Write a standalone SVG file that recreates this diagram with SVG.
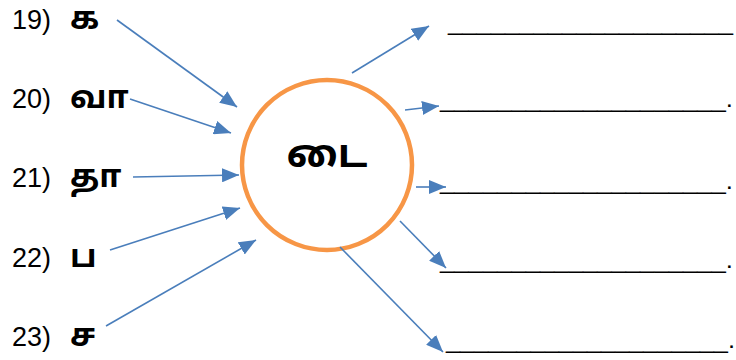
<svg xmlns="http://www.w3.org/2000/svg" width="736" height="360" viewBox="0 0 736 360">
<style>
.lbl{font-family:"Liberation Sans",Arial,"Noto Sans Tamil","Noto Sans",sans-serif;font-size:27px;fill:#000}
.ta{font-family:"Noto Sans Tamil","Latha","Noto Sans","Liberation Sans",sans-serif;font-size:32px;font-weight:bold;fill:#000}
.big{font-size:40px}
.blank{font-family:"Liberation Sans",Arial,sans-serif;font-size:24px;fill:#000}
.arr{stroke:#4A7EBB;stroke-width:1.6;fill:none;marker-end:url(#ah)}
</style>
<defs>
<marker id="ah" markerUnits="userSpaceOnUse" markerWidth="18" markerHeight="14" refX="17" refY="7" orient="auto">
<path d="M0,0 L17,7 L0,14 z" fill="#4A7EBB"/>
</marker>
</defs>
<rect width="736" height="360" fill="#fff"/>
<g id="item19"><text class="lbl" x="12" y="29">19)</text><text class="ta" x="70" y="29">க</text></g>
<g id="item20"><text class="lbl" x="12" y="108">20)</text><text class="ta" x="70" y="108">வா</text></g>
<g id="item21"><text class="lbl" x="12" y="187">21)</text><text class="ta" x="70" y="187">தா</text></g>
<g id="item22"><text class="lbl" x="12" y="267">22)</text><text class="ta" x="70" y="267">ப</text></g>
<g id="item23"><text class="lbl" x="12" y="346">23)</text><text class="ta" x="70" y="346">ச</text></g>
<g id="center">
<circle cx="327" cy="165" r="85" fill="#fff" stroke="#F79646" stroke-width="4.5"/>
<text class="ta big" x="327" y="167" text-anchor="middle">டை</text>
</g>
<g id="blank1"><text class="blank" x="448" y="30" textLength="285" lengthAdjust="spacingAndGlyphs">____________________</text></g>
<g id="blank2"><text class="blank" x="440" y="107" textLength="293" lengthAdjust="spacingAndGlyphs">____________________.</text></g>
<g id="blank3"><text class="blank" x="440" y="189" textLength="293" lengthAdjust="spacingAndGlyphs">____________________.</text></g>
<g id="blank4"><text class="blank" x="440" y="268" textLength="293" lengthAdjust="spacingAndGlyphs">____________________.</text></g>
<g id="blank5"><text class="blank" x="446" y="348" textLength="289" lengthAdjust="spacingAndGlyphs">____________________.</text></g>
<g id="connectors">
<line class="arr" x1="117" y1="20" x2="237" y2="107"/>
<line class="arr" x1="130" y1="99" x2="231" y2="133"/>
<line class="arr" x1="133" y1="177" x2="239" y2="175"/>
<line class="arr" x1="110" y1="250" x2="240" y2="208"/>
<line class="arr" x1="106" y1="326" x2="256" y2="240"/>
<line class="arr" x1="352" y1="73" x2="429" y2="26"/>
<line class="arr" x1="405" y1="110" x2="439" y2="106"/>
<line class="arr" x1="416" y1="187" x2="446" y2="187"/>
<line class="arr" x1="400" y1="221" x2="446" y2="268"/>
<line class="arr" x1="340" y1="247" x2="443" y2="352"/>
</g>
</svg>
